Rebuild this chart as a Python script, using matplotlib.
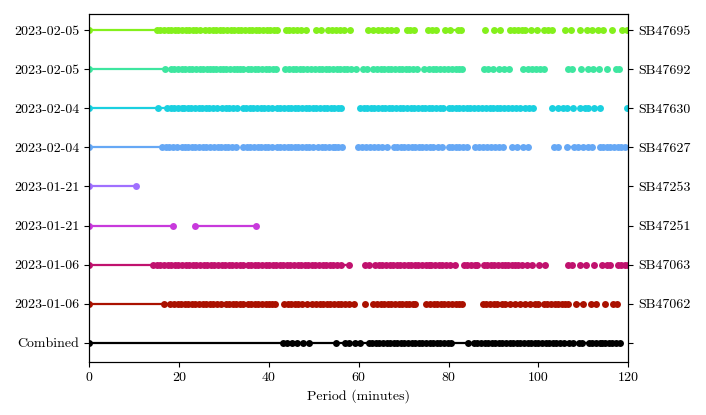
import matplotlib
matplotlib.use("Agg")
import matplotlib.pyplot as plt

plt.rcParams['font.family'] = 'serif'
plt.rcParams['font.serif'] = ['cmr10', 'DejaVu Serif']
plt.rcParams['mathtext.fontset'] = 'cm'
plt.rcParams['axes.formatter.use_mathtext'] = True
plt.rcParams['font.size'] = 10

# ---- data: allowed periods (minutes), grouped in contiguous runs ----
sb47695 = [
    [0, 15.1, 15.9, 16.7, 17.5, 18.3, 19.1, 19.9, 20.7, 21.5, 22.3, 23.1, 23.9, 24.7, 25.8,
     26.7, 27.5, 28.3, 29.1, 29.9, 30.7, 31.5, 32.3, 33.1, 33.9, 34.7, 35.5, 36.3, 37.1,
     37.9, 38.7, 39.5, 40.3, 41.1, 41.8],
    [43.8, 44.6, 45.4, 46.2],
    [47.2, 48.2],
    [50.5, 51.6],
    [53.1, 54.1, 55.0, 55.9, 56.8, 58.0],
    [62.1, 63.2, 64.2, 65.2, 66.2, 67.3, 68.2],
    [70.7, 71.5, 72.3],
    [75.4, 76.4, 77.2],
    [79.2, 80.3, 82.0, 82.7],
    [88.2],
    [90.2, 91.4],
    [93.6, 94.5, 95.4, 96.3, 97.1, 98.3, 99.7],
    [101.2, 102.2, 103.1],
    [106.0, 107.2],
    [109.2],
    [110.9, 112.0, 113.2, 114.4],
    [116.3],
    [118.7, 119.8],
]
sb47692 = [
    [0, 16.9, 18.2, 19.0, 19.8, 20.6, 21.4, 22.2, 23.0, 23.8, 24.6, 25.4, 26.2, 26.9],
    [27.5, 28.3, 29.1, 29.8],
    [30.6, 31.4, 32.2, 33.0, 33.7, 34.3],
    [35.3, 36.1, 36.9, 37.6],
    [38.5, 39.3, 40.1, 40.9, 41.6],
    [43.7, 44.5, 45.3, 46.1, 46.9, 47.7, 48.6],
    [49.5, 50.3, 51.1, 51.9, 52.7, 53.5, 54.3, 55.1, 55.9, 56.7, 57.3],
    [58.2, 59.4],
    [61.0, 61.9],
    [63.3, 64.1, 64.9, 65.7, 66.5, 67.3, 68.1, 68.9, 69.7, 70.5, 71.3, 72.1, 72.9],
    [74.6, 75.6, 76.5, 77.3, 78.2, 79.0, 79.8, 80.7, 81.6, 82.3, 83.0],
    [87.8, 88.7],
    [90.0],
    [91.2, 92.3, 93.5],
    [96.6, 97.6, 98.6, 99.5, 100.4, 101.2],
    [106.6, 107.5],
    [109.5],
    [111.1, 112.2, 113.5],
    [115.3],
    [117.2, 118.0],
]
sb47630 = [
    [0, 15.3, 17.4, 18.2, 19.0, 19.8, 20.6],
    [21.2, 22.0, 22.8, 23.6, 24.4, 25.2, 26.0, 26.8, 27.6, 28.5],
    [29.6, 30.4, 31.2, 32.0, 32.9],
    [34.2, 35.0, 35.8, 36.6, 37.4, 38.2, 39.0, 39.8, 40.7, 41.8, 42.6, 43.4, 44.2, 45.0,
     45.8, 46.6, 47.4, 48.2, 49.0, 49.8, 50.6, 51.4, 52.2, 53.0, 53.8, 54.6, 55.4, 56.1],
    [60.3, 61.1, 61.9, 62.7, 63.5, 64.3, 65.1, 65.9, 66.7, 67.5, 68.3, 69.1, 69.9, 70.8],
    [71.6, 72.4, 73.2, 74.0, 74.8, 75.6, 76.4, 77.2, 78.0, 78.8],
    [80.0, 80.8, 81.6, 82.4, 83.2, 84.0, 84.8],
    [85.6, 86.5, 87.4, 88.3, 89.2, 90.0, 90.8, 91.5],
    [92.3, 93.2, 94.1, 95.0, 95.9, 97.0, 98.0, 98.8],
    [103.0, 104.3],
    [105.4, 106.4, 107.6],
    [109.3, 110.3, 111.1],
    [112.4, 113.7],
    [119.8],
]
sb47627 = [
    [0, 16.3, 17.1, 17.9, 18.7, 19.5, 20.6],
    [21.3, 22.1, 22.9, 23.7, 24.5, 25.3, 26.1, 26.9, 27.8, 28.6],
    [29.4, 30.2, 31.0, 31.8, 32.8],
    [34.3, 35.1, 35.9, 36.7, 37.5, 38.3, 39.1, 39.9, 40.8, 41.8, 42.6, 43.4, 44.2, 45.0,
     45.8, 46.6, 47.4, 48.2, 49.0, 49.9],
    [51.0, 51.8, 52.6, 53.4, 54.2, 54.8],
    [55.5, 56.2],
    [59.9, 60.8, 61.6, 62.5, 63.4, 64.3, 65.3, 66.2],
    [67.8, 68.6, 69.4, 70.2, 71.0, 71.8, 72.6, 73.4, 74.2, 75.0, 75.8, 76.6, 77.6, 78.6],
    [80.0, 80.8, 81.6, 82.4, 83.2, 84.2],
    [85.9, 86.8, 87.7, 88.6, 89.5, 90.4, 91.3, 92.2],
    [94.2, 95.3, 96.5, 97.6],
    [103.5, 104.4],
    [106.4, 107.8, 108.9, 110.0, 111.1, 112.0],
    [113.6, 114.4, 115.2, 116.0, 116.8, 117.6, 118.4, 119.2],
]
sb47253 = [
    [0, 10.4],
]
sb47251 = [
    [0, 18.6],
    [23.6, 37.2],
]
sb47063 = [
    [0, 14.3, 15.1, 15.9, 16.7, 17.5, 18.3, 19.1, 19.9, 20.7, 21.5, 22.3, 23.1, 23.9, 24.7,
     25.5, 26.3, 27.1, 27.9, 28.7, 29.5, 30.3, 31.1, 31.9, 32.7, 33.5, 34.2],
    [35.3, 36.1, 36.9, 37.7, 38.5, 39.3, 40.1, 40.9, 41.6, 42.4, 43.2],
    [44.0, 44.8, 45.6, 46.4, 47.2, 48.0, 48.8, 49.6, 50.4, 51.2, 52.0, 52.8, 53.6, 54.4,
     55.2, 56.0, 57.8],
    [61.4, 62.4],
    [63.7, 64.5, 65.3, 66.1, 66.9, 67.7, 68.5, 69.3, 70.1, 70.9, 71.7, 72.5, 73.3, 74.1,
     74.9, 75.6],
    [76.2, 77.0, 77.8, 78.6, 79.5, 80.4],
    [81.5],
    [83.4, 84.2, 85.0, 85.8, 86.4],
    [87.8, 88.6, 89.4, 90.2, 91.0, 91.9, 92.6, 93.3, 94.2, 94.8, 95.5, 96.4, 97.5, 98.6],
    [100.2, 101.4],
    [106.6, 107.5],
    [109.2, 110.6],
    [112.3],
    [114.2, 115.2, 116.0],
    [117.6, 118.4, 119.2, 120.0],
]
sb47062 = [
    [0, 16.8, 18.1, 18.9, 19.7, 20.5, 21.3, 22.1, 22.9, 23.7, 24.5, 25.3, 26.1, 26.9, 27.7,
     28.5, 29.4],
    [30.4, 31.2, 32.0, 32.8, 33.6, 34.3, 35.3, 36.1, 36.9, 37.7, 38.5, 39.3, 40.1, 40.8, 41.5],
    [43.4, 44.2, 45.0, 45.8, 46.6, 47.4, 48.4],
    [49.7, 50.5, 51.3, 52.1, 52.9, 53.7, 54.5, 55.3, 56.1, 56.9],
    [57.9, 58.9],
    [61.4],
    [63.3, 64.1, 64.9, 65.7, 66.5, 67.3, 68.1, 68.9, 69.7, 70.5, 71.3, 72.1, 72.6],
    [74.9, 75.8, 76.7, 77.5, 78.3, 79.1, 79.9, 80.7, 81.6, 82.4, 83.0],
    [87.6, 88.4, 89.3, 90.1, 90.8, 91.9, 92.6, 93.7, 94.8, 95.9, 97.0, 98.2, 99.3, 100.0],
    [101.2, 102.0, 102.8, 103.6, 104.4, 105.2, 106.0, 106.6],
    [108.4, 110.0],
    [111.6, 112.9],
    [114.9],
    [116.5, 117.4],
]
combined = [
    [0, 43.2, 44.1, 45.2, 46.3, 47.6, 49.0, 54.9, 56.9, 57.9, 59.1, 60.4,
     62.2, 63.0, 63.8, 64.6, 65.4, 66.2, 67.0, 67.8, 68.6, 69.4, 70.2, 71.0, 71.8, 72.6,
     73.4, 74.2, 75.0, 75.8, 76.6, 77.4, 78.2, 79.0, 79.8, 80.6, 84.3,
     85.6, 86.4, 87.2, 88.0, 88.8, 89.6, 90.4, 91.2, 92.0, 92.8, 93.6, 94.4, 95.2, 96.0,
     96.8, 97.6, 98.4, 99.2, 100.0, 100.8, 101.6, 102.4, 103.2, 104.0, 104.8,
     105.7, 106.7, 107.6, 109.1, 109.8, 111.3, 112.0, 112.8, 113.6, 114.2, 114.8, 115.6,
     116.4, 117.2, 118.1],
]

rows = [combined, sb47062, sb47063, sb47251, sb47253, sb47627, sb47630, sb47692, sb47695]
row_colors = ['black', '#aa1100', '#c0126e', '#c83adc', '#a070ff',
              '#66a8f5', '#1ad0e0', '#3ee6a0', '#84f01c']
left_labels = ['Combined', '2023-01-06', '2023-01-06', '2023-01-21', '2023-01-21',
               '2023-02-04', '2023-02-04', '2023-02-05', '2023-02-05']
right_labels = ['', 'SB47062', 'SB47063', 'SB47251', 'SB47253',
                'SB47627', 'SB47630', 'SB47692', 'SB47695']
x_ticks = [0, 20, 40, 60, 80, 100, 120]

fig = plt.figure(figsize=(7.06, 4.15), dpi=100)
ax = fig.add_axes([0.126, 0.128, 0.764, 0.838])

for i, (runs, col) in enumerate(zip(rows, row_colors)):
    for run in runs:
        ax.plot(run, [i] * len(run), '-o', color=col, lw=1.6, ms=5.0,
                markeredgewidth=0, clip_on=True)

ax.set_xlim(0, 120)
ax.set_ylim(-0.49, 8.41)
ax.set_xticks(x_ticks)
ax.set_xticklabels([str(t) for t in x_ticks])
ax.set_yticks(range(len(rows)))
ax.set_yticklabels(left_labels)
ax.set_xlabel('Period (minutes)')

ax2 = ax.twinx()
ax2.set_ylim(ax.get_ylim())
ax2.set_yticks(range(len(rows)))
ax2.set_yticklabels(right_labels)

fig.savefig('out.png', dpi=100)
